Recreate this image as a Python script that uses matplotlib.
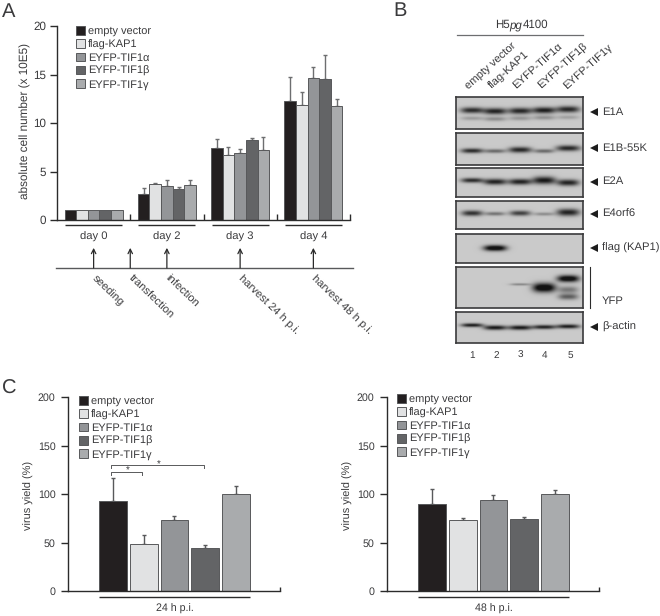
import numpy as np
import matplotlib
matplotlib.use('Agg')
import matplotlib.pyplot as plt

plt.rcParams['font.family'] = ['Liberation Sans', 'DejaVu Sans']
plt.rcParams['font.size'] = 7.9
plt.rcParams['text.hinting'] = 'none'
plt.rcParams['text.color'] = '#3a3a3c'
plt.rcParams['axes.labelcolor'] = '#3a3a3c'
plt.rcParams['xtick.labelcolor'] = '#3a3a3c'
plt.rcParams['ytick.labelcolor'] = '#3a3a3c'

W, H = 660, 616

constructs = ['empty vector', 'flag-KAP1', 'EYFP-TIF1α', 'EYFP-TIF1β', 'EYFP-TIF1γ']
colors = ['#231f20', '#e1e2e3', '#939598', '#636466', '#a9abad']

# panel A
days = ['day 0', 'day 2', 'day 3', 'day 4']
cells = [[1, 1, 1, 1, 1],
         [2.65, 3.7, 3.55, 3.2, 3.6],
         [7.4, 6.65, 6.95, 8.2, 7.2],
         [12.3, 11.9, 14.6, 14.5, 11.8]]
cells_err = [[0, 0, 0, 0, 0],
             [0.7, 0.1, 0.55, 0.25, 0.5],
             [1.0, 0.85, 0.35, 0.3, 1.4],
             [2.4, 1.3, 1.2, 2.5, 0.7]]
timeline_steps = ['seeding', 'transfection', 'infection', 'harvest 24 h p.i.', 'harvest 48 h p.i.']
timeline_pos = [0.5, 1.0, 1.5, 2.5, 3.5]

# panel C
yield_24 = [93, 48, 73, 44, 100]
yield_24_err = [24, 10, 4, 3, 8]
yield_48 = [90, 73, 94, 74.5, 100]
yield_48_err = [15, 2, 5, 1.5, 4.5]

# panel B: lane, height in blot (0-1), strength, half height, half width (px)
blot_names = ['E1A', 'E1B-55K', 'E2A', 'E4orf6', 'flag (KAP1)', 'YFP', 'β-actin']
blot_top = [97, 133, 168, 201, 234, 267, 312]
blot_bottom = [129, 165, 197, 229, 263, 308, 343]
bands_e1a = [(0, .41, .62, 3.0, 11.5), (1, .44, .66, 3.2, 11.5), (2, .43, .64, 3.2, 11.5), (3, .41, .68, 3.2, 11.5), (4, .38, .64, 3.2, 11.5),
             (0, .66, .18, 2.0, 11), (1, .68, .24, 2.2, 11), (2, .66, .2, 2.2, 11), (3, .64, .22, 2.2, 11), (4, .63, .16, 2.0, 11)]
bands_e1b = [(0, .55, .62, 2.4, 11), (1, .56, .38, 2.0, 10.5), (2, .52, .64, 2.9, 11.5), (3, .56, .38, 2.0, 10), (4, .47, .64, 2.9, 12)]
bands_e2a = [(0, .42, .62, 2.4, 11), (1, .47, .66, 3.0, 11.5), (2, .47, .66, 3.0, 11.5), (3, .42, .7, 3.8, 11.5), (4, .5, .66, 3.2, 11)]
bands_e4 = [(0, .43, .6, 2.8, 10.5), (1, .45, .34, 1.9, 10), (2, .43, .54, 2.6, 10.5), (3, .46, .24, 1.7, 10), (4, .4, .66, 3.6, 11.5)]
bands_flag = [(1, .48, .85, 2.9, 11.5)]
bands_yfp = [(2, .42, .26, 1.2, 10), (3, .5, .88, 4.6, 11.5), (4, .28, .85, 3.4, 11), (4, .55, .32, 3.4, 10), (4, .72, .42, 3.0, 10)]
bands_actin = [(0, .42, .68, 1.9, 11), (1, .5, .7, 2.3, 11.5), (2, .5, .7, 2.3, 11.5), (3, .48, .66, 2.1, 11.5), (4, .46, .68, 2.1, 11.5)]
blot_bands = [bands_e1a, bands_e1b, bands_e2a, bands_e4, bands_flag, bands_yfp, bands_actin]
lane_x = [16, 39, 64, 88, 112]
lane_number_x = [16, 40, 64, 89, 114]


def px_axes(left, top, right, bottom):
    return fig.add_axes([left / W, 1 - bottom / H, (right - left) / W, (bottom - top) / H])


def style(ax):
    ax.spines['top'].set_visible(False)
    ax.spines['right'].set_visible(False)
    ax.spines['left'].set_linewidth(1.0)
    ax.spines['bottom'].set_linewidth(1.0)
    ax.spines['left'].set_color('#2b2b2b')
    ax.spines['bottom'].set_color('#2b2b2b')
    ax.tick_params(axis='y', direction='out', length=5, width=1.0, color='#2b2b2b', pad=3)
    ax.patch.set_alpha(0)


def add_legend(ax, x, y):
    h = [plt.Rectangle((0, 0), 1, 1, fc=c, ec='#58595b', lw=0.7) for c in colors]
    ax.legend(h, constructs, loc='upper left', bbox_to_anchor=(x, y), frameon=False,
              handlelength=0.82, handleheight=0.82, handletextpad=0.3, labelspacing=0.27,
              borderpad=0, borderaxespad=0, fontsize=7.9)


def virus_panel(left, right, vals, errs, legend_x, legend_y, label):
    ax = px_axes(left, 397, right, 591)
    style(ax)
    x = np.arange(5)
    ax.bar(x, vals, width=0.9, color=colors, edgecolor='#58595b', linewidth=0.7, zorder=2)
    ax.errorbar(x, vals, yerr=[np.zeros(5), errs], fmt='none', ecolor='#58595b', elinewidth=1.0,
                capsize=1.6, capthick=1.0, zorder=1)
    ax.set_xlim(-1.466, 5.44)
    ax.set_ylim(0, 200)
    ax.set_yticks([0, 50, 100, 150, 200])
    ax.set_xticks([5.44])
    ax.set_xticklabels([''])
    ax.tick_params(axis='x', direction='in', length=3, width=1.0, color='#2b2b2b')
    ax.set_ylabel('virus yield (%)', fontsize=7.9)
    ax.yaxis.set_label_coords(-34 / (right - left), 0.495)
    ax.tick_params(axis='y', labelsize=7.7, pad=4)
    add_legend(ax, legend_x, legend_y)
    ax.plot([-0.45, 4.45], [-0.03, -0.03], transform=ax.get_xaxis_transform(),
            color='#2b2b2b', lw=1.0, clip_on=False, solid_capstyle='butt')
    ax.text(2, -0.09, label, transform=ax.get_xaxis_transform(), ha='center', va='center', fontsize=7.7)
    return ax


fig = plt.figure(figsize=(W / 100, H / 100), dpi=100)

# A
ax = px_axes(57, 26, 350, 220)
style(ax)
offsets = (np.arange(5) - 2) * 0.159
for i in range(4):
    ax.bar(i + 0.5 + offsets, cells[i], width=0.159, color=colors, edgecolor='#58595b', linewidth=0.7, zorder=2)
    if i > 0:
        ax.errorbar(i + 0.5 + offsets, cells[i], yerr=[np.zeros(5), cells_err[i]], fmt='none', ecolor='#6d6e70',
                    elinewidth=1.0, capsize=1.6, capthick=1.0, zorder=1)
    ax.plot([i + 0.5 - 0.39, i + 0.5 + 0.39], [-0.024, -0.024], transform=ax.get_xaxis_transform(),
            color='#2b2b2b', lw=1.0, clip_on=False, solid_capstyle='butt')
ax.set_xlim(0, 4)
ax.set_ylim(0, 20)
ax.set_yticks([0, 5, 10, 15, 20])
ax.set_xticks([1, 2, 3, 4])
ax.set_xticklabels(['', '', '', ''])
ax.tick_params(axis='x', direction='in', length=4, width=1.0, color='#2b2b2b')
ax.tick_params(axis='y', labelsize=8.4)
ax.set_ylabel('absolute cell number (x 10E5)', fontsize=8.5)
ax.yaxis.set_label_coords(-26 / 293, 0.51)
add_legend(ax, 0.065, 1.0)
for i, d in enumerate(days):
    ax.text(i + 0.5, -0.088, d, transform=ax.get_xaxis_transform(), ha='center', va='center', clip_on=False, fontsize=8.1)

# A timeline, same x scale as the bars
tl = px_axes(57, 240, 350, 268)
tl.set_xlim(0, 4)
tl.set_ylim(0, 1)
tl.axis('off')
tl.plot([-0.01, 4.04], [0, 0], color='#58595b', lw=1.0, clip_on=False)
for p, lab in zip(timeline_pos, timeline_steps):
    tl.annotate('', xy=(p, 0.72), xytext=(p, 0), annotation_clip=False,
                arrowprops=dict(arrowstyle='->', color='#2b2b2b', lw=0.9, mutation_scale=8, shrinkA=0, shrinkB=0))
    tl.annotate(lab, xy=(p, 0), xytext=(2, -4), textcoords='offset points', rotation=-44,
                rotation_mode='anchor', ha='left', va='top', annotation_clip=False, fontsize=8.1)

# B
for name, top, bottom, bands in zip(blot_names, blot_top, blot_bottom, blot_bands):
    b = px_axes(456, top, 583, bottom)
    w = 583 - 456
    h = bottom - top
    yy, xx = np.mgrid[0:h * 3, 0:w * 3] / 3.0
    img = np.full(xx.shape, 0.79)
    for lane, fy, strength, hh, hw in bands:
        prof = np.exp(-np.abs((xx - lane_x[lane]) / hw) ** 3) * np.exp(-((yy - fy * h) / hh) ** 2)
        img = img - prof * strength
    b.imshow(np.clip(img, 0.08, 1), cmap='gray', vmin=0, vmax=1, aspect='auto', extent=(0, w, h, 0))
    b.set_xticks([])
    b.set_yticks([])
    for s in b.spines.values():
        s.set_linewidth(1.2)
        s.set_color('#3a3a3c')

# overlay in pixel coordinates for text and annotation lines
ov = fig.add_axes([0, 0, 1, 1])
ov.set_xlim(0, W)
ov.set_ylim(H, 0)
ov.axis('off')
ov.text(2, 12, 'A', fontsize=14.5, ha='left', va='center')
ov.text(393, 11, 'B', fontsize=14.5, ha='left', va='center')
ov.text(2, 389, 'C', fontsize=14.5, ha='left', va='center')

ov.text(495, 25, 'H5', ha='left', va='center', fontsize=8.3)
ov.text(509, 25, 'pg', ha='left', va='center', style='italic', fontsize=8.3)
ov.text(522.5, 25, '4100', ha='left', va='center', fontsize=8.3)
ov.plot([457, 583], [35, 35], color='#6d6e70', lw=0.9)
for n, cx in zip(constructs, lane_number_x):
    ov.text(456 + cx - 2, 91, n, rotation=42, rotation_mode='anchor', ha='left', va='bottom', fontsize=8.1)
for i, cx in enumerate(lane_number_x):
    ov.text(456 + cx, 355, str(i + 1), ha='center', va='center', fontsize=7.2)
for name, top, bottom in zip(blot_names, blot_top, blot_bottom):
    y = (top + bottom) / 2 - 1
    if name == 'YFP':
        ov.plot([590, 590], [top, bottom], color='#2b2b2b', lw=0.8)
        ov.text(602, 301, name, va='center', fontsize=8.1)
    else:
        ov.plot([594], [y], marker='<', ms=6, color='#1d1d1d', mew=0)
        ov.text(602, y, name, va='center', fontsize=8.1)

# C
c1 = virus_panel(68, 280, yield_24, yield_24_err, 0.05, 1.005, '24 h p.i.')
c2 = virus_panel(387, 599, yield_48, yield_48_err, 0.045, 1.015, '48 h p.i.')

# significance brackets
for x0, x1, lev, star_x in [(0, 1.0, 123, 0.47), (0, 3.0, 130, 1.5)]:
    c1.plot([x0 - 0.07, x0 - 0.07, x1 - 0.04, x1 - 0.04], [lev - 3, lev, lev, lev - 3], color='#58595b', lw=0.7)
    c1.text(star_x, lev + 0.5, '*', ha='center', va='center', fontsize=7)

fig.savefig('out.png', dpi=100)
